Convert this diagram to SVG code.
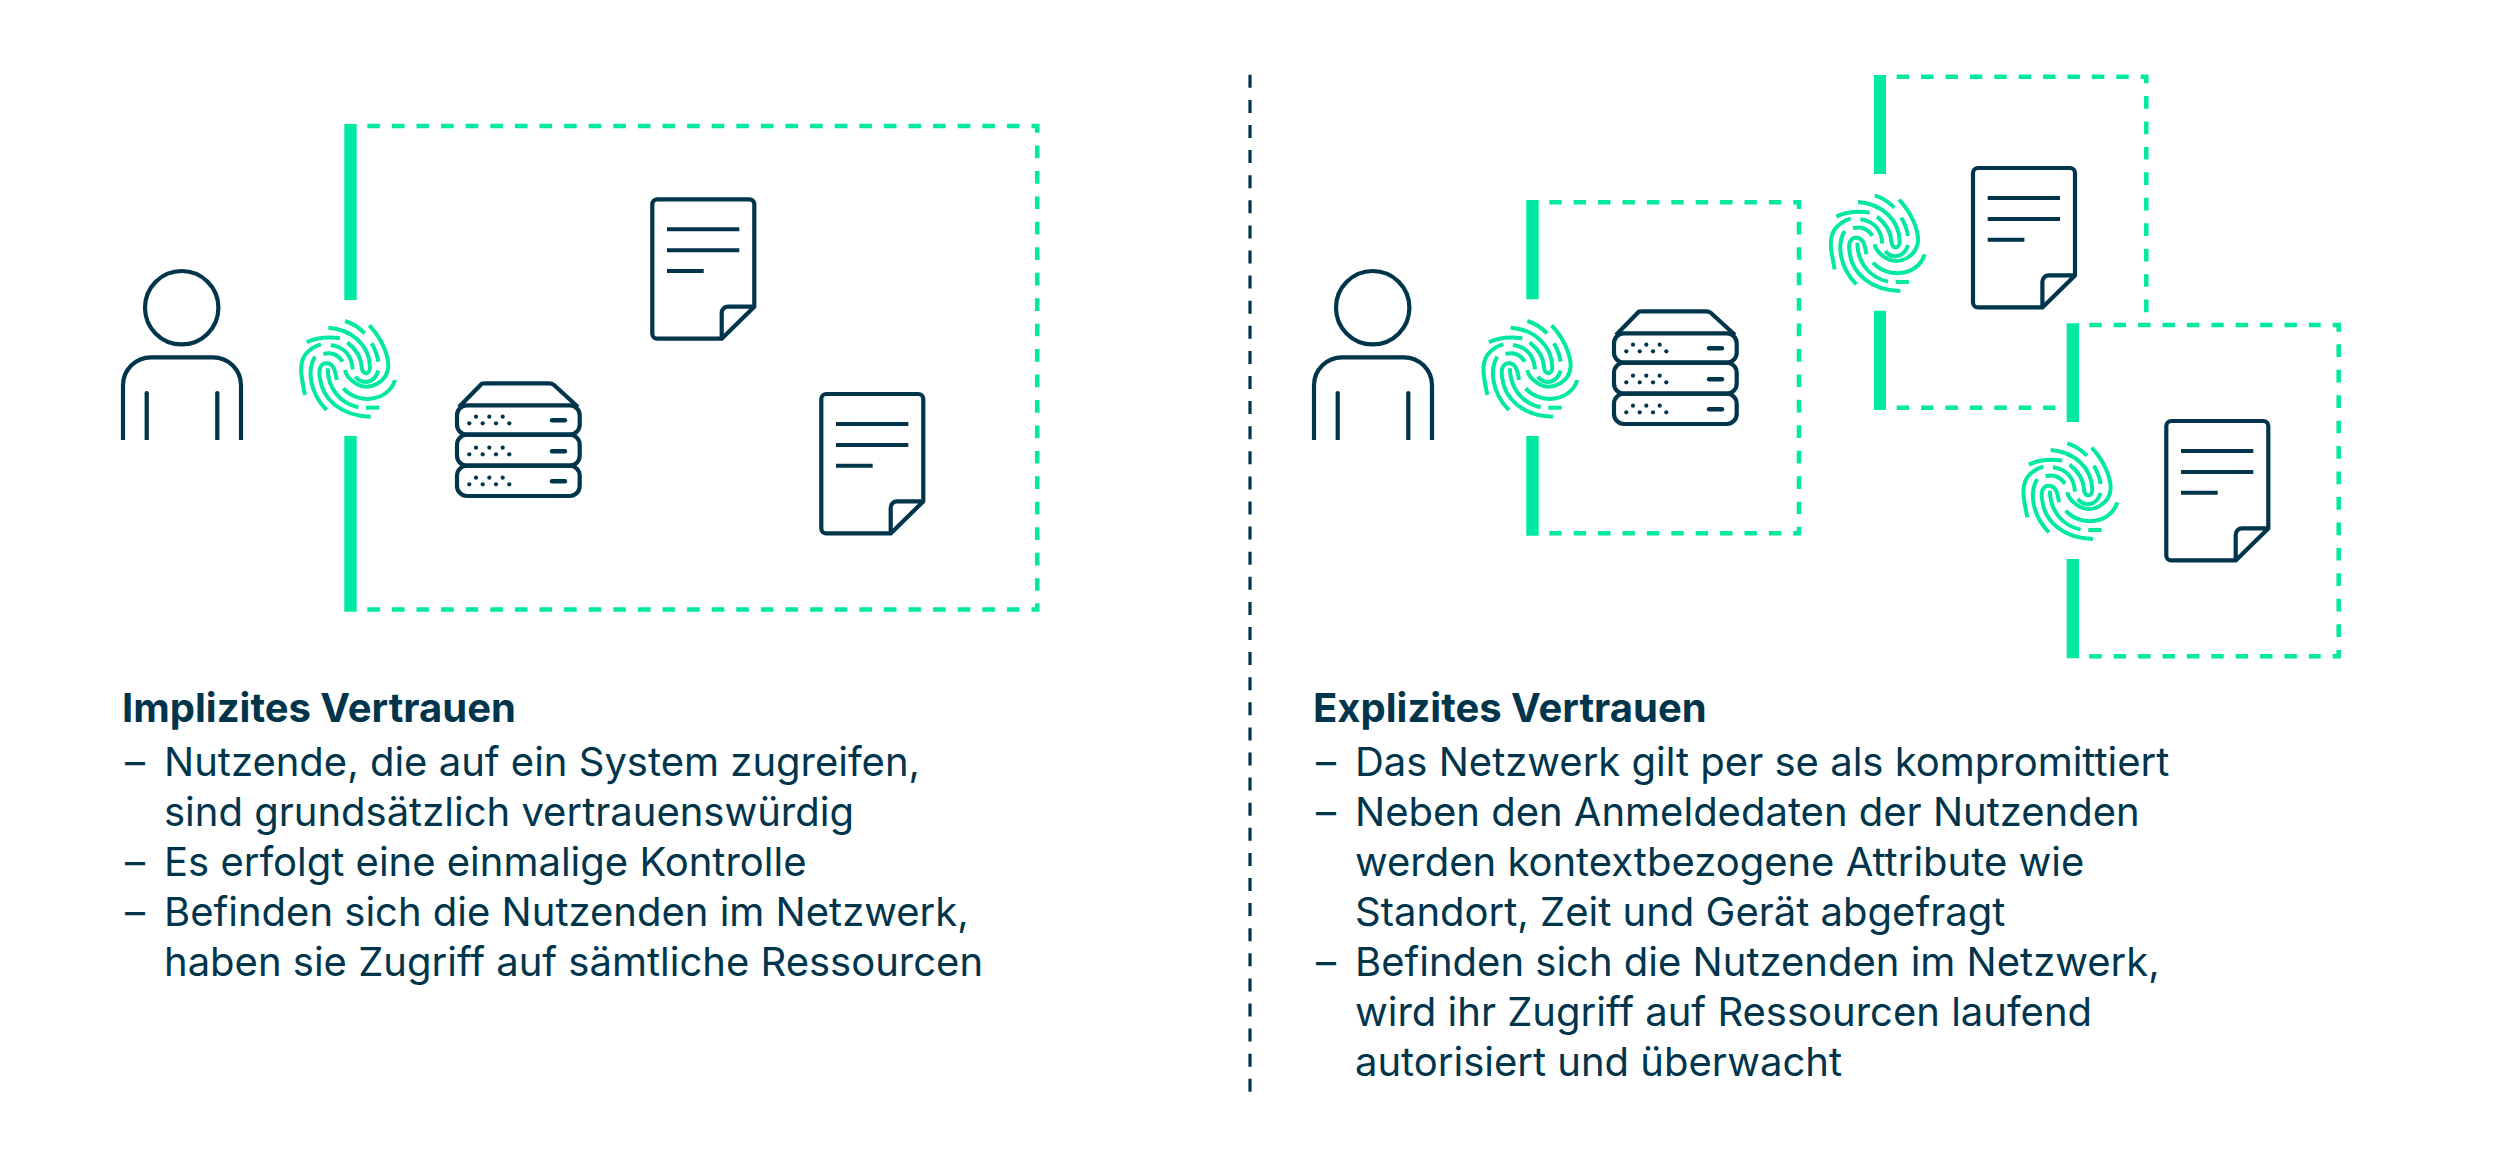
<svg xmlns="http://www.w3.org/2000/svg" xmlns:xlink="http://www.w3.org/1999/xlink" width="2500" height="1167" viewBox="0 0 2500 1167">
<style>
.bg{fill:#fff}
.bar{fill:#00e8a2}
.g{fill:none;stroke:#00e8a2;stroke-width:4.5;stroke-linejoin:miter}
.d1{stroke-dasharray:12.6 12}
.dh{stroke-dasharray:12.4 12}
.dv{stroke-dasharray:12.7 12.75}
.fp{fill:none;stroke:#00e8a2;stroke-width:12}
.k{fill:none;stroke:#00354b;stroke-width:4.2;stroke-linejoin:round}
.kk{fill:none;stroke:#00354b;stroke-width:4}
.slot{fill:none;stroke:#00354b;stroke-width:4.4;stroke-linecap:round}
.dot{fill:#00354b}
.div{fill:none;stroke:#00354b;stroke-width:3.2;stroke-dasharray:13 12.1}
text{font-family:"Inter","Liberation Sans",sans-serif;fill:#00354b;font-size:40px}
.h{font-weight:700}
</style>
<defs>
<g id="fingerprint" class="fp">
<path d="M50,97C80,82 115,80 150,85"/>
<path d="M115,53C185,58 238,105 240,170C241,195 216,197 215,170C213,140 195,115 172,97"/>
<path d="M245,100C255,118 262,135 265,155"/>
<path d="M165,33Q198,43 224,70"/>
<path d="M238,46C275,85 296,135 295,170C292,215 240,245 200,222C180,210 167,195 165,180"/>
<path d="M197,200C212,222 252,225 265,182"/>
<path d="M315,210C295,275 205,285 160,235"/>
<path d="M228,293H268"/>
<path d="M45,255C35,205 25,165 45,135C58,118 75,108 93,103"/>
<path d="M75,140C50,180 60,250 110,300"/>
<path d="M140,210C136,180 130,160 110,160C90,160 85,180 90,205C97,265 150,318 242,320"/>
<path d="M113,175C113,235 150,280 205,292"/>
<path d="M100,132C125,125 145,135 158,155"/>
<path d="M122,105C160,110 185,135 188,178"/>
</g>
<g id="person">
<circle cx="181.7" cy="307.7" r="36.7" class="k" stroke-width="4.5"/>
<path class="k" d="M123,440V385.3A28,28 0 0 1 151,357.3H213A28,28 0 0 1 241,385.3V440"/>
<path class="k" d="M146.7,440V393M217.3,440V393"/>
<circle class="dot" cx="146.7" cy="393" r="2.1"/><circle class="dot" cx="217.3" cy="393" r="2.1"/>
</g>
<g id="server-dots">
<g id="dots-row">
<circle cx="476" cy="416.7" r="2.1" class="dot"/><circle cx="489.3" cy="416.7" r="2.1" class="dot"/><circle cx="502.7" cy="416.7" r="2.1" class="dot"/>
<circle cx="469.3" cy="423.3" r="2.1" class="dot"/><circle cx="482.7" cy="423.3" r="2.1" class="dot"/><circle cx="496" cy="423.3" r="2.1" class="dot"/><circle cx="509.3" cy="423.3" r="2.1" class="dot"/>
</g>
<path class="slot" d="M552,420.3H565"/>
</g>
<g id="server">
<path class="k" d="M459,407L482,383.5Q484,383.3 486,383.3H549Q552,383.3 554,385L578,407"/>
<rect class="k" x="457" y="405.3" width="122.7" height="29.4" rx="10"/>
<rect class="k" x="457" y="434.7" width="122.7" height="31" rx="10"/>
<rect class="k" x="457" y="465.7" width="122.7" height="30.3" rx="10"/>
<use href="#server-dots"/>
<use href="#server-dots" y="31"/>
<use href="#server-dots" y="61"/>
</g>
<g id="doc">
<path class="k" d="M721.7,338.7H657.3A5,5 0 0 1 652.3,333.7V204.3A5,5 0 0 1 657.3,199.3H749.3A5,5 0 0 1 754.3,204.3V306.7ZM754.3,306.7H728A6.3,6.3 0 0 0 721.7,313V338.7"/>
<path class="kk" d="M667,229.3H739.3M667,250.3H739.3M667,271H703.7"/>
</g>
</defs>
<rect class="bg" width="2500" height="1167"/>
<g id="connectors">
<path id="divider" class="div" d="M1250,74.8V1092"/>
</g>
<g id="zone-implicit">
<path class="bar" d="M344.3,124H356.7V300H344.3ZM344.3,436H356.7V611.8H344.3Z"/>
<path class="g d1" d="M367.3,126H1020M367.3,609.5H1020"/>
<path class="g dv" d="M1037.2,145.5V590.7"/>
<path class="g" d="M1031.5,126H1037.2V132.7M1037.2,603.3V609.5H1031.5"/>
</g>
<g id="zone-explicit-1">
<path class="bar" d="M1526.3,200H1538.7V299.3H1526.3ZM1526.3,436H1538.7V535.7H1526.3Z"/>
<path class="g dh" d="M1549.3,202.3H1781.3M1549.3,533.3H1781.3"/>
<path class="g dv" d="M1799,221.7V514"/>
<path class="g" d="M1793.3,202.3H1799V209M1799,526.7V533.3H1793.3"/>
</g>
<g id="zone-explicit-2">
<path class="bar" d="M1874,75H1886V174H1874ZM1874,310.7H1886V410H1874Z"/>
<path class="g dh" d="M1896.7,76.7H2128.7M1896.7,407.7H2055.3"/>
<path class="g dv" d="M2146.3,96V312.7"/>
<path class="g" d="M2140.7,76.7H2146.3V83.3"/>
</g>
<g id="zone-explicit-3">
<path class="bar" d="M2066.7,323.3H2079V422H2066.7ZM2066.7,559H2079V658.3H2066.7Z"/>
<path class="g dh" d="M2089.3,325H2320.7M2089.3,656.3H2320.7"/>
<path class="g dv" d="M2338.7,344.3V637.3"/>
<path class="g" d="M2332.7,325H2338.7V331.7M2338.7,650V656.3H2332.7"/>
</g>
<g id="person-implicit"><use href="#person"/></g>
<g id="person-explicit"><use href="#person" x="1191"/></g>
<g id="fingerprint-implicit"><use href="#fingerprint" transform="translate(290,310) scale(.3333)"/></g>
<g id="fingerprint-explicit-1"><use href="#fingerprint" transform="translate(1472.3,310) scale(.3333)"/></g>
<g id="fingerprint-explicit-2"><use href="#fingerprint" transform="translate(1819.7,184.3) scale(.3333)"/></g>
<g id="fingerprint-explicit-3"><use href="#fingerprint" transform="translate(2012.3,432.3) scale(.3333)"/></g>
<g id="server-implicit"><use href="#server"/></g>
<g id="server-explicit"><use href="#server" x="1157" y="-72"/></g>
<g id="doc-implicit-1"><use href="#doc"/></g>
<g id="doc-implicit-2"><use href="#doc" x="169" y="194.7"/></g>
<g id="doc-explicit-1"><use href="#doc" x="1320.7" y="-31.3"/></g>
<g id="doc-explicit-2"><use href="#doc" x="1514" y="221.7"/></g>
<g id="text-implicit">
<text class="h" x="122" y="722">Implizites Vertrauen</text>
<text y="776"><tspan x="125">–</tspan><tspan x="164">Nutzende, die auf ein System zugreifen,</tspan></text>
<text x="164" y="826">sind grundsätzlich vertrauenswürdig</text>
<text y="876"><tspan x="125">–</tspan><tspan x="164">Es erfolgt eine einmalige Kontrolle</tspan></text>
<text y="926"><tspan x="125">–</tspan><tspan x="164">Befinden sich die Nutzenden im Netzwerk,</tspan></text>
<text x="164" y="976">haben sie Zugriff auf sämtliche Ressourcen</text>
</g>
<g id="text-explicit">
<text class="h" x="1313" y="722">Explizites Vertrauen</text>
<text y="776"><tspan x="1316">–</tspan><tspan x="1355">Das Netzwerk gilt per se als kompromittiert</tspan></text>
<text y="826"><tspan x="1316">–</tspan><tspan x="1355">Neben den Anmeldedaten der Nutzenden</tspan></text>
<text x="1355" y="876">werden kontextbezogene Attribute wie</text>
<text x="1355" y="926">Standort, Zeit und Gerät abgefragt</text>
<text y="976"><tspan x="1316">–</tspan><tspan x="1355">Befinden sich die Nutzenden im Netzwerk,</tspan></text>
<text x="1355" y="1026">wird ihr Zugriff auf Ressourcen laufend</text>
<text x="1355" y="1076">autorisiert und überwacht</text>
</g>
</svg>
